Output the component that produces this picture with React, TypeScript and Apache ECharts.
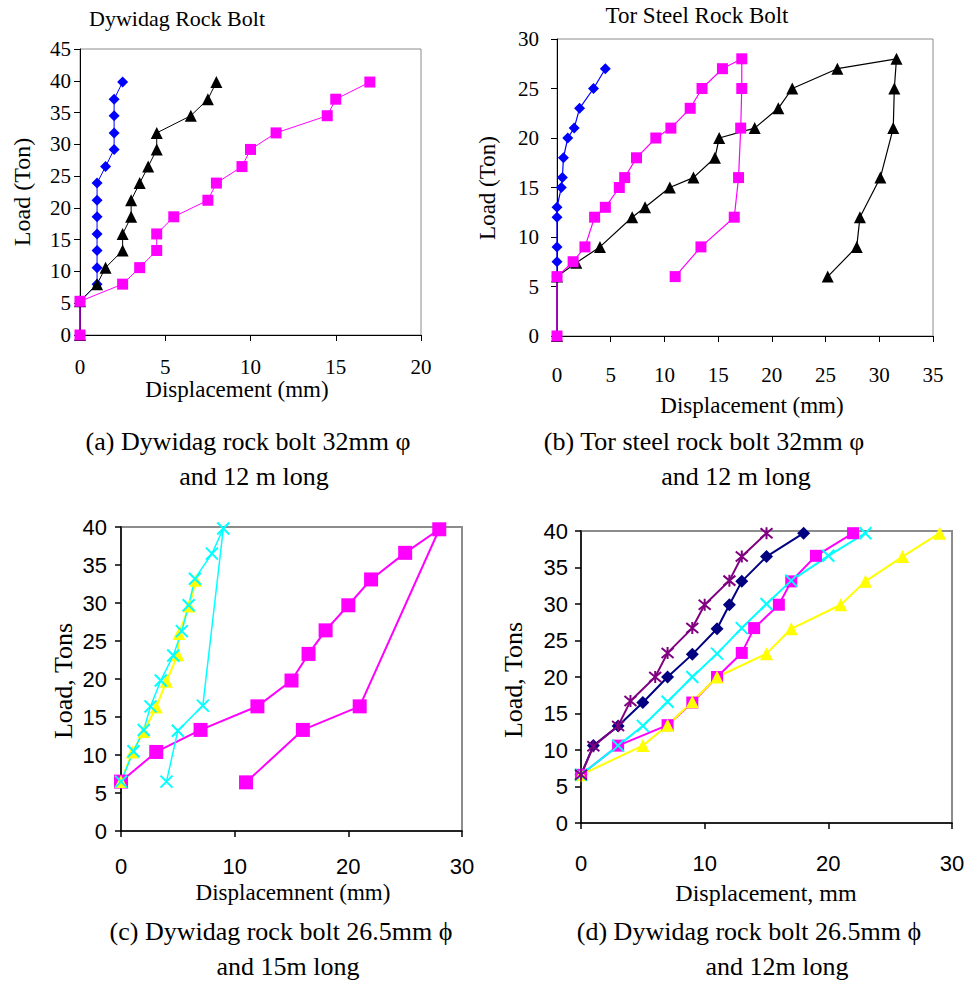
import React, { useEffect, useRef } from "react";
import * as echarts from "echarts";

// ---------- Panel (a) Dywidag Rock Bolt ----------
const aBlueX = [0, 0, 1, 1, 1, 1, 1, 1, 1, 1.5, 2, 2, 2, 2, 2.5];
const aBlueY = [0, 5.3, 8.0, 10.6, 13.3, 15.9, 18.6, 21.2, 23.9, 26.5, 29.2, 31.8, 34.5, 37.1, 39.8];
const aBlackX = [0, 0, 1, 1.5, 2.5, 2.5, 3, 3, 3.5, 4, 4.5, 4.5, 6.5, 7.5, 8];
const aBlackY = [0, 5.3, 8.0, 10.6, 13.3, 15.9, 18.6, 21.2, 23.9, 26.5, 29.2, 31.8, 34.5, 37.1, 39.8];
const aPinkX = [0, 0, 2.5, 3.5, 4.5, 4.5, 5.5, 7.5, 8, 9.5, 10, 11.5, 14.5, 15, 17];
const aPinkY = [0, 5.3, 8.0, 10.6, 13.3, 15.9, 18.6, 21.2, 23.9, 26.5, 29.2, 31.8, 34.5, 37.1, 39.8];

// ---------- Panel (b) Tor Steel Rock Bolt ----------
const bBlueX = [0, 0, 0, 0, 0, 0, 0.4, 0.5, 0.6, 1, 1.6, 2.1, 3.4, 4.5];
const bBlueY = [0, 6, 7.5, 9, 12, 13, 15, 16, 18, 20, 21, 23, 25, 27];
const bBlackX = [0, 0, 1.8, 4, 7, 8.2, 10.5, 12.7, 14.7, 15.1, 18.4, 20.6, 21.9, 26.1, 31.6, 31.4, 31.3, 30.1, 28.2, 27.9, 25.2];
const bBlackY = [0, 6, 7.4, 9, 12, 13, 15, 16, 18, 20, 21, 23, 25, 27, 28, 25, 21, 16, 12, 9, 6];
const bPinkX = [0, 0, 1.5, 2.6, 3.5, 4.5, 5.8, 6.3, 7.4, 9.2, 10.6, 12.4, 13.5, 15.4, 17.2, 17.2, 17.1, 16.9, 16.5, 13.4, 11];
const bPinkY = [0, 6, 7.5, 9, 12, 13, 15, 16, 18, 20, 21, 23, 25, 27, 28, 25, 21, 16, 12, 9, 6];

// ---------- Panel (c) Dywidag 26.5mm, 15m ----------
const cPinkX = [0, 3.1, 7, 12, 15, 16.5, 18, 20, 22, 25, 28, 21, 16, 11];
const cPinkY = [6.5, 10.4, 13.3, 16.4, 19.8, 23.3, 26.4, 29.7, 33.1, 36.6, 39.7, 16.4, 13.3, 6.4];
const cYellowX = [0, 1, 2, 3.1, 4, 5, 5.1, 6, 6.6];
const cYellowY = [6.5, 10.4, 13.1, 16.3, 19.7, 23.2, 26.0, 29.6, 33.0];
const cCyanX = [0, 1.1, 2, 2.6, 3.5, 4.6, 5.35, 5.95, 6.5, 8, 9, 7.2, 5, 4];
const cCyanY = [6.5, 10.5, 13.3, 16.4, 19.8, 23.1, 26.3, 29.7, 33.2, 36.5, 39.8, 16.5, 13.2, 6.5];

// ---------- Panel (d) Dywidag 26.5mm, 12m ----------
const dNavyX = [0, 1, 3, 5, 7, 9, 11, 12, 13, 15, 18];
const dNavyY = [6.6, 10.6, 13.3, 16.5, 20.0, 23.1, 26.6, 29.9, 33.1, 36.5, 39.7];
const dPinkX = [0, 3, 7, 9, 11, 13, 14, 16, 17, 19, 22];
const dPinkY = [6.6, 10.6, 13.4, 16.5, 20.0, 23.3, 26.7, 29.9, 33.1, 36.6, 39.7];
const dYellowX = [0, 5, 7, 9, 11, 15, 17, 21, 23, 26, 29];
const dYellowY = [6.6, 10.6, 13.4, 16.6, 20.0, 23.2, 26.6, 29.9, 33.1, 36.5, 39.7];
const dCyanX = [0, 3, 5, 7, 9, 11, 13, 15, 17, 20, 23];
const dCyanY = [6.6, 10.6, 13.3, 16.6, 20.0, 23.2, 26.7, 30.0, 33.2, 36.6, 39.7];
const dPurpleX = [0, 1, 3, 4, 6, 7, 9, 10, 12, 13, 15];
const dPurpleY = [6.6, 10.5, 13.3, 16.7, 20.0, 23.3, 26.7, 29.9, 33.2, 36.5, 39.7];

const zip = (xs: number[], ys: number[]) => xs.map((x, i) => [x, ys[i]]);

const SERIF = '"Liberation Serif", "Times New Roman", serif';
const SANS = '"Liberation Sans", Arial, sans-serif';

const CROSS = "path://M0,0L10,10M10,0L0,10";
const STAR = "path://M0,0L10,10M10,0L0,10M5,-1L5,11";

export default function App() {
  const ref = useRef<HTMLDivElement>(null);

  useEffect(() => {
    document.body.style.margin = "0";
    if (!ref.current) return;
    const chart = echarts.init(ref.current, undefined, { renderer: "svg" });

    const grids = [
      { left: 80, top: 49, width: 341, height: 286 },
      { left: 557, top: 39, width: 376, height: 297 },
      { left: 121, top: 527, width: 341, height: 304 },
      { left: 581, top: 531, width: 371, height: 292 },
    ].map((g, i) => ({
      ...g,
      show: true,
      borderColor: "#8c8c8c",
      borderWidth: i < 2 ? 1 : 2,
      backgroundColor: "transparent",
    }));

    const axisBase = (i: number, font: string, size: number) => ({
      gridIndex: i,
      type: "value" as const,
      splitLine: { show: false },
      axisLine: { show: true, onZero: false, lineStyle: { color: "#000", width: i < 2 ? 1 : 1.5 } },
      axisTick: { show: true, length: 6, lineStyle: { color: "#000", width: i < 2 ? 1 : 1.5 } },
      axisLabel: { fontFamily: font, fontSize: size, color: "#000" },
    });

    const xAxis = [
      { ...axisBase(0, SERIF, 21), min: 0, max: 20, interval: 5, axisLabel: { ...axisBase(0, SERIF, 21).axisLabel, margin: 21 } },
      { ...axisBase(1, SERIF, 21), min: 0, max: 35, interval: 5, axisLabel: { ...axisBase(1, SERIF, 21).axisLabel, margin: 28 } },
      { ...axisBase(2, SANS, 22), min: 0, max: 30, interval: 10, axisLabel: { ...axisBase(2, SANS, 22).axisLabel, margin: 24 } },
      { ...axisBase(3, SANS, 22), min: 0, max: 30, interval: 10, axisLabel: { ...axisBase(3, SANS, 22).axisLabel, margin: 29 } },
    ];
    const yAxis = [
      { ...axisBase(0, SERIF, 21), min: 0, max: 45, interval: 5, axisLabel: { ...axisBase(0, SERIF, 21).axisLabel, margin: 9 } },
      { ...axisBase(1, SERIF, 21), min: 0, max: 30, interval: 5, axisLabel: { ...axisBase(1, SERIF, 21).axisLabel, margin: 18 } },
      { ...axisBase(2, SANS, 22), min: 0, max: 40, interval: 5, axisLabel: { ...axisBase(2, SANS, 22).axisLabel, margin: 14 } },
      { ...axisBase(3, SANS, 22), min: 0, max: 40, interval: 5, axisLabel: { ...axisBase(3, SANS, 22).axisLabel, margin: 13 } },
    ];

    const mk = (
      gi: number,
      name: string,
      xs: number[],
      ys: number[],
      color: string,
      symbol: string,
      size: number,
      lw: number,
      stroke = false
    ) => ({
      type: "line" as const,
      name,
      xAxisIndex: gi,
      yAxisIndex: gi,
      data: zip(xs, ys),
      symbol,
      symbolSize: size,
      showSymbol: true,
      lineStyle: { color, width: lw },
      itemStyle: stroke
        ? { color, borderColor: color, borderWidth: 2 }
        : { color, borderColor: color, borderWidth: 0 },
      emphasis: { disabled: true },
      z: 2,
    });

    const series = [
      mk(0, "a-blue", aBlueX, aBlueY, "#0000FF", "diamond", 11, 1),
      mk(0, "a-black", aBlackX, aBlackY, "#000000", "triangle", 12, 1),
      mk(0, "a-pink", aPinkX, aPinkY, "#FF00FF", "rect", 11, 1),
      mk(1, "b-blue", bBlueX, bBlueY, "#0000FF", "diamond", 11, 1.2),
      mk(1, "b-black", bBlackX, bBlackY, "#000000", "triangle", 12, 1.2),
      mk(1, "b-pink", bPinkX, bPinkY, "#FF00FF", "rect", 11, 1.2),
      mk(2, "c-pink", cPinkX, cPinkY, "#FF00FF", "rect", 14, 2),
      mk(2, "c-yellow", cYellowX, cYellowY, "#FFFF00", "triangle", 13, 2),
      mk(2, "c-cyan", cCyanX, cCyanY, "#00FFFF", CROSS, 12, 1.5, true),
      mk(3, "d-navy", dNavyX, dNavyY, "#000080", "diamond", 13, 2),
      mk(3, "d-pink", dPinkX, dPinkY, "#FF00FF", "rect", 12, 2),
      mk(3, "d-yellow", dYellowX, dYellowY, "#FFFF00", "triangle", 13, 2),
      mk(3, "d-cyan", dCyanX, dCyanY, "#00FFFF", CROSS, 12, 2, true),
      mk(3, "d-purple", dPurpleX, dPurpleY, "#800080", STAR, 12, 2, true),
    ];

    const txt = (text: string, x: number, y: number, size: number, font = SERIF, rot = 0) => ({
      type: "text" as const,
      x,
      y,
      rotation: rot,
      silent: true,
      style: {
        text,
        x: 0,
        y: 0,
        fill: "#000",
        fontSize: size,
        fontFamily: font,
        textAlign: "center",
        textVerticalAlign: "middle",
      },
    });

    const graphic = [
      txt("Dywidag Rock Bolt", 177, 18, 22),
      txt("Tor Steel Rock Bolt", 697, 15, 23),
      txt("Load (Ton)", 22, 192, 24, SERIF, Math.PI / 2),
      txt("Displacement (mm)", 237, 389, 23),
      txt("Load (Ton)", 487, 188, 23, SERIF, Math.PI / 2),
      txt("Displacement (mm)", 752, 405, 23),
      txt("Load, Tons", 63, 681, 26, SERIF, Math.PI / 2),
      txt("Displacemnent (mm)", 293, 892, 23),
      txt("Load, Tons", 513, 680, 26, SERIF, Math.PI / 2),
      txt("Displacement, mm", 766, 893, 24),
      txt("(a) Dywidag rock bolt 32mm \u03C6", 248, 441, 26),
      txt("and 12 m long", 254, 476, 26),
      txt("(b) Tor steel rock bolt 32mm \u03C6", 704, 441, 26),
      txt("and 12 m long", 736, 476, 26),
      txt("(c) Dywidag rock bolt 26.5mm \u03D5", 281, 931, 26),
      txt("and 15m long", 288, 966, 26),
      txt("(d) Dywidag rock bolt 26.5mm \u03D5", 749, 931, 26),
      txt("and 12m long", 777, 966, 26),
    ];

    chart.setOption({
      animation: false,
      backgroundColor: "#fff",
      grid: grids,
      xAxis,
      yAxis,
      series,
      graphic,
    });

    return () => chart.dispose();
  }, []);

  return <div ref={ref} style={{ width: 969, height: 982 }} />;
}
